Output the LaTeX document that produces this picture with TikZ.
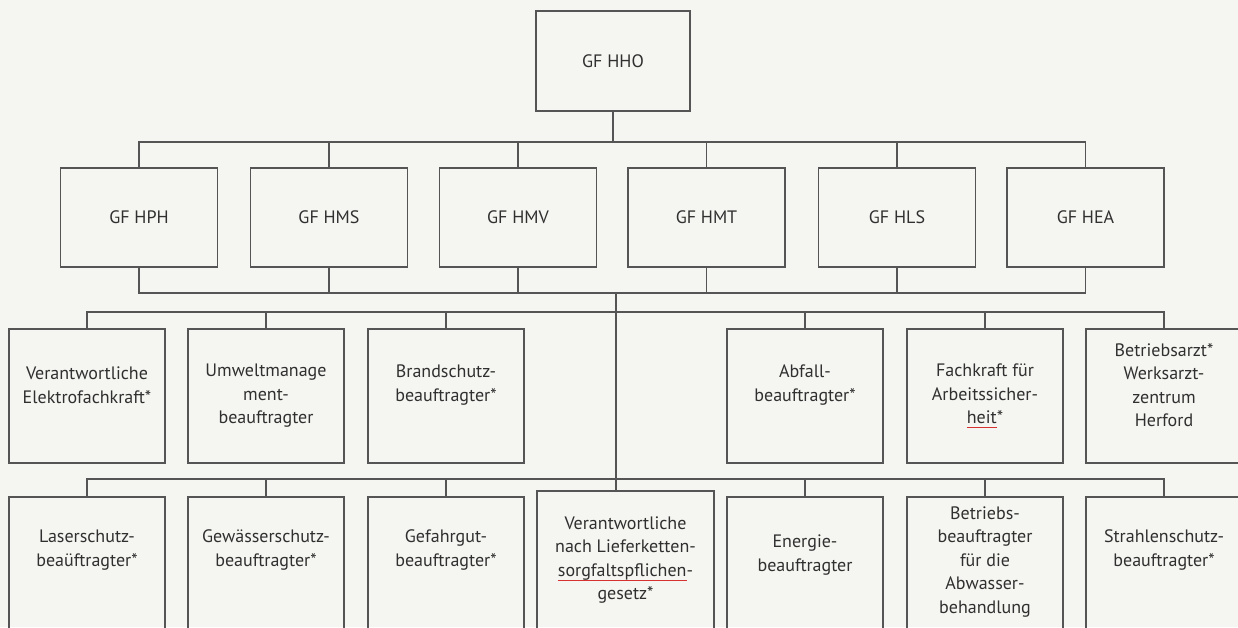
\documentclass[tikz,border=0pt]{standalone}
\usepackage{fontspec}
\setmainfont{PT Sans}
\definecolor{paper}{RGB}{245,245,241}
\definecolor{ln}{RGB}{85,85,85}
\definecolor{tx}{RGB}{48,48,48}
\definecolor{spell}{RGB}{215,50,50}
\newcommand\spellu[1]{\setbox0\hbox{#1}\rlap{\raisebox{-4.5pt}{\textcolor{spell}{\rule{\wd0}{1pt}}}}\box0}
\begin{document}
\begin{tikzpicture}[x=1pt,y=-1pt,
  box/.style={draw=ln,line width=1.2pt,inner sep=0pt,outer sep=0pt,text=tx,
    font=\fontsize{18}{23.5}\selectfont,align=center},
  rtop/.style={box,minimum width=154pt,minimum height=100pt},
  rtwo/.style={box,minimum width=157pt,minimum height=99pt},
  rthree/.style={box,minimum width=156pt,minimum height=134pt},
  rfour/.style={box,minimum width=156pt,minimum height=135pt},
  conn/.style={draw=ln,line width=1.2pt},
  txt/.style={text=tx,font=\fontsize{18}{23.5}\selectfont,align=center,inner sep=0pt}]
\fill[paper] (0,0) rectangle (1238,627);
\useasboundingbox (0,0) rectangle (1238,627);

% top
\node[rtop] (hho) at (613,61) {GF HHO};
% row 2
\node[rtwo] (hph) at (139,217.5) {GF HPH};
\node[rtwo] (hms) at (329,217.5) {GF HMS};
\node[rtwo] (hmv) at (518,217.5) {GF HMV};
\node[rtwo] (hmt) at (706.5,217.5) {GF HMT};
\node[rtwo] (hls) at (897,217.5) {GF HLS};
\node[rtwo] (hea) at (1085.5,217.5) {GF HEA};
% row 3 boxes
\node[rthree] (elek) at (87,396) {};
\node[rthree] (umw) at (266,396) {};
\node[rthree] (brand) at (446,396) {};
\node[rthree] (abf) at (805,396) {};
\node[rthree] (fach) at (985,396) {};
\node[rthree] (arzt) at (1164,396) {};
% row 4 boxes
\node[rfour] (laser) at (87,564.5) {};
\node[rfour] (gew) at (266,564.5) {};
\node[rfour] (gef) at (446,564.5) {};
\node[box,minimum width=177pt,minimum height=141pt] (vn) at (625.5,561.5) {};
\node[rfour] (ene) at (805,564.5) {};
\node[rfour] (betr) at (985,564.5) {};
\node[rfour] (strahl) at (1164,564.5) {};

% texts row 3
\node[txt] (telek) at (87,385) {Verantwortliche\\Elektrofachkraft*};
\node[txt] (tumw) at (266,396) {Umweltmanage\\ment-\\beauftragter};
\node[txt] (tbrand) at (446,385) {Brandschutz-\\beauftragter*};
\node[txt] (tabf) at (805,385) {Abfall-\\beauftragter*};
\node[txt] (tfach) at (985,396) {Fachkraft für\\Arbeitssicher-\\\spellu{heit}*};
\node[txt] (tarzt) at (1164,385) {Betriebsarzt*\\Werksarzt-\\zentrum\\Herford};
% texts row 4
\node[txt] (tlaser) at (87,550) {Laserschutz-\\beaüftragter*};
\node[txt] (tgew) at (266,550) {Gewässerschutz-\\beauftragter*};
\node[txt] (tgef) at (446,550) {Gefahrgut-\\beauftragter*};
\node[txt] (tvn) at (625.5,560) {Verantwortliche\\nach Lieferketten-\\\spellu{sorgfaltspflichen}-\\gesetz*};
\node[txt] (tene) at (805,555) {Energie-\\beauftragter};
\node[txt] (tbetr) at (985,562) {Betriebs-\\beauftragter\\für die\\Abwasser-\\behandlung};
\node[txt] (tstrahl) at (1164,550) {Strahlenschutz-\\beauftragter*};

% connectors: top to row 2
\coordinate (b1) at (613,142);
\draw[conn] (hho.south) -- (b1);
\draw[conn] (hph.north) -- ++(0,-26) -| (hea.north);
\draw[conn] (hms.north) -- ++(0,-26);
\draw[conn] (hmv.north) -- ++(0,-26);
\draw[conn] (hmt.north) -- ++(0,-26);
\draw[conn] (hls.north) -- ++(0,-26);
% row 2 to collecting bar
\draw[conn] (hph.south) -- ++(0,26) -| (hea.south);
\draw[conn] (hms.south) -- ++(0,26);
\draw[conn] (hmv.south) -- ++(0,26);
\draw[conn] (hmt.south) -- ++(0,26);
\draw[conn] (hls.south) -- ++(0,26);
% central trunk
\coordinate (c2) at (616,293);
\draw[conn] (c2) -- (c2 |- vn.north);
% row 3 bar
\draw[conn] (elek.north) -- ++(0,-17) -| (arzt.north);
\draw[conn] (umw.north) -- ++(0,-17);
\draw[conn] (brand.north) -- ++(0,-17);
\draw[conn] (abf.north) -- ++(0,-17);
\draw[conn] (fach.north) -- ++(0,-17);
% row 4 bar
\draw[conn] (laser.north) -- ++(0,-18) -| (strahl.north);
\draw[conn] (gew.north) -- ++(0,-18);
\draw[conn] (gef.north) -- ++(0,-18);
\draw[conn] (ene.north) -- ++(0,-18);
\draw[conn] (betr.north) -- ++(0,-18);
\end{tikzpicture}
\end{document}
